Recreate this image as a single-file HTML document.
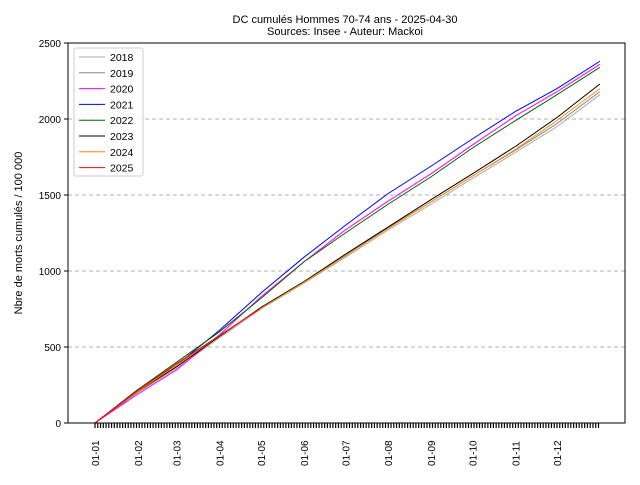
<!DOCTYPE html>
<html><head><meta charset="utf-8"><style>
body{margin:0;background:#fff;font-family:"Liberation Sans",sans-serif;}
svg text{font-family:"Liberation Sans",sans-serif;}
</style></head><body>
<svg width="640" height="480" xmlns="http://www.w3.org/2000/svg">
<text x="345" y="23" font-size="11" text-anchor="middle">DC cumulés Hommes 70-74 ans  - 2025-04-30</text>
<text x="345" y="35" font-size="11" text-anchor="middle">Sources: Insee - Auteur: Mackoi</text>
<g id="grid"></g>
<g id="series"></g>
<rect x="68" y="43" width="557" height="380" fill="none" stroke="#000" stroke-width="1"/>
<g id="axes"></g>
<text transform="translate(22,233) rotate(-90)" font-size="11" text-anchor="middle">Nbre de morts cumulés / 100 000</text>
<g id="legend"></g>
</svg>
<script>
const years=["2018","2019","2020","2021","2022","2023","2024","2025"];
const colors=["#aaaaaa","#888888","#ff00ff","#0000ff","#006400","#000000","#ff8c00","#ff0000"];
const days=[0,31,59,90,120,151,181,212,243,273,304,334,365];
const monthLabels=["01-01","01-02","01-03","01-04","01-05","01-06","01-07","01-08","01-09","01-10","01-11","01-12"];
const yTicks=[0,500,1000,1500,2000,2500];
const v2018=[0,200,360,560,750,920,1090,1270,1440,1610,1780,1950,2160];
const v2019=[0,205,370,570,760,930,1100,1285,1455,1625,1795,1970,2180];
const v2020=[0,190,350,580,830,1060,1270,1460,1640,1830,2020,2180,2360];
const v2021=[0,220,380,610,855,1090,1300,1510,1690,1870,2050,2200,2380];
const v2022=[0,220,400,600,820,1060,1250,1440,1620,1810,1990,2160,2340];
const v2023=[0,210,370,570,760,930,1110,1290,1470,1640,1820,2010,2230];
const v2024=[0,210,380,575,755,925,1100,1280,1455,1625,1800,1990,2200];
const days2025=[0,31,59,90,119];
const v2025=[0,215,390,575,750];
const allVals=[v2018,v2019,v2020,v2021,v2022,v2023,v2024,v2025];
const NS="http://www.w3.org/2000/svg";
const X=d=>95+d*(557-95)/334;
const Y=v=>423-v*380/2500;
function mk(t,a,p){const e=document.createElementNS(NS,t);for(const k in a)e.setAttribute(k,a[k]);p.appendChild(e);return e;}
const grid=document.getElementById('grid'),axes=document.getElementById('axes'),ser=document.getElementById('series'),leg=document.getElementById('legend');
yTicks.forEach(t=>{
 if(t>0&&t<2500){const g=mk('line',{x1:68,x2:625,y1:Y(t),y2:Y(t),stroke:'#b0b0b0','stroke-dasharray':'4,3'},grid);
 }
 const tk=mk('line',{x1:64,x2:68,y1:Y(t),y2:Y(t),stroke:'#000'},axes);
 
 const lb=mk('text',{x:61,y:Y(t)+4,'font-size':10,'text-anchor':'end'},axes);lb.textContent=t;
 
});
for(let d=0;d<=364;d+=2){const tk=mk('line',{x1:X(d),x2:X(d),y1:423,y2:428,stroke:'#000','stroke-width':1.2},axes);
 }
monthLabels.forEach((m,i)=>{const x=X(days[i]);
 const lb=mk('text',{transform:`translate(${x+4},466) rotate(-90)`,'font-size':10},axes);lb.textContent=m;
 });
allVals.forEach((vals,i)=>{const ds=i==7?days2025:days;
 const pts=vals.map((v,j)=>X(ds[j])+','+Y(v)).join(' ');
 const pl=mk('polyline',{points:pts,fill:'none',stroke:colors[i],'stroke-width':1},ser);
 });
const box=mk('rect',{x:74,y:48,width:69,height:128,fill:'#fff','fill-opacity':0.8,stroke:'#ccc',rx:2},leg);

years.forEach((y,i)=>{const yy=57+i*15.8;
 const l=mk('line',{x1:79,x2:105,y1:yy,y2:yy,stroke:colors[i]},leg);
 
 const t=mk('text',{x:110,y:yy+4,'font-size':10.5},leg);t.textContent=y;
 });
</script>
</body></html>
